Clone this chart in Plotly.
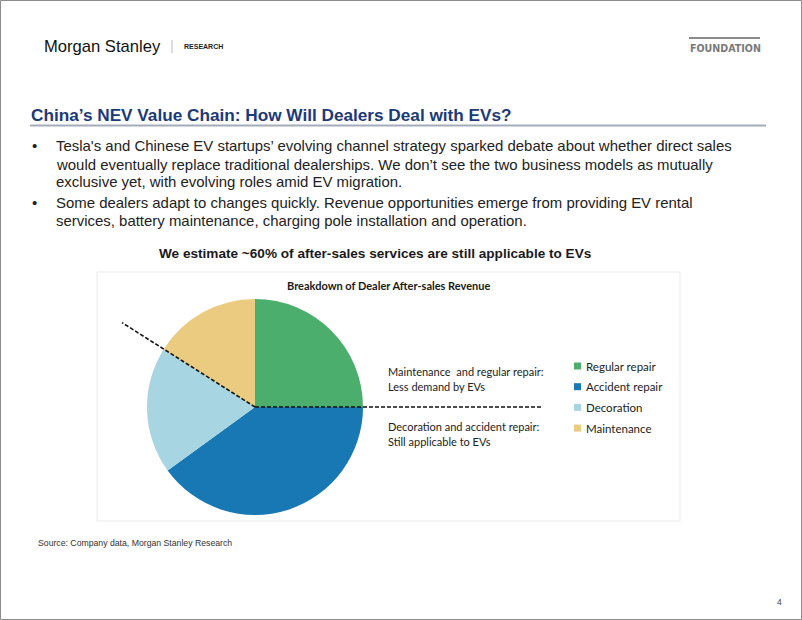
import math
import plotly.graph_objects as go

# ---- data ----
categories = ["Regular repair", "Accident repair", "Decoration", "Maintenance"]
shares = [25, 40, 19, 16]
colors = ["#4CAE6C", "#1778B4", "#A8D5E2", "#EACB80"]

W, H = 802, 620

def px(x):
    return x / W

def py(y):
    return 1 - y / H

fig = go.Figure()

# pie: center (255,407), radius 108
cx, cy, r = 255, 407, 108
fig.add_trace(go.Pie(
    labels=categories, values=shares, sort=False, direction="clockwise", rotation=0,
    marker=dict(colors=colors, line=dict(width=0)),
    textinfo="none", hoverinfo="label+percent",
    domain=dict(x=[px(cx - r), px(cx + r)], y=[py(cy + r), py(cy - r)]),
    showlegend=False,
))

shapes = []
annotations = []

# slide border
shapes.append(dict(type="rect", xref="paper", yref="paper", x0=px(0.5), x1=px(801.5), y0=py(619.5), y1=py(0.5),
                   line=dict(color="#8C8C8C", width=1)))
# chart box
shapes.append(dict(type="rect", xref="paper", yref="paper", x0=px(97), x1=px(680), y0=py(521), y1=py(272),
                   line=dict(color="#EBEBEB", width=1)))
# title underline
shapes.append(dict(type="line", xref="paper", yref="paper", x0=px(30), x1=px(766), y0=py(125.5), y1=py(125.5),
                   line=dict(color="#A4ABBA", width=2)))
# FOUNDATION overline
shapes.append(dict(type="line", xref="paper", yref="paper", x0=px(689), x1=px(760), y0=py(38), y1=py(38),
                   line=dict(color="#8A8A8A", width=2)))
# divider in header
shapes.append(dict(type="line", xref="paper", yref="paper", x0=px(172), x1=px(172), y0=py(40), y1=py(53),
                   line=dict(color="#BBBBBB", width=1)))

# dashed split lines derived from the data (boundary of maintenance/decoration and at 3 o'clock)
total = sum(shares)
ang_b = 360 * sum(shares[:3]) / total  # clockwise from 12 o'clock
dx = math.sin(math.radians(ang_b))
dy = -math.cos(math.radians(ang_b))
t = (122 - cx) / dx
shapes.append(dict(type="line", xref="paper", yref="paper", x0=px(cx), y0=py(cy), x1=px(cx + t * dx), y1=py(cy + t * dy),
                   line=dict(color="#111111", width=1.6, dash="4px,2px")))
shapes.append(dict(type="line", xref="paper", yref="paper", x0=px(cx), y0=py(cy), x1=px(543), y1=py(cy),
                   line=dict(color="#111111", width=1.6, dash="4px,2px")))

def text(x, y, s, size, color="#222222", bold=False, family="Liberation Sans", xanchor="left"):
    annotations.append(dict(xref="paper", yref="paper", x=px(x), y=py(y), text=("<b>%s</b>" % s) if bold else s,
                            showarrow=False, xanchor=xanchor, yanchor="middle",
                            font=dict(size=size, color=color, family=family)))

# header
text(42, 46, "Morgan Stanley", 16.6, color="#111111", family="Liberation Sans")
text(182, 46, "RESEARCH", 7, color="#222222", bold=True)
text(688, 47.5, "FOUNDATION", 10.6, color="#7A7A7A", bold=True, family="DejaVu Sans Condensed")

# title
text(29, 115, "China’s NEV Value Chain: How Will Dealers Deal with EVs?", 17.2, color="#1B3A78", bold=True)

# bullets
bullet_lines = [
    (145, True, "Tesla's and Chinese EV startups’ evolving channel strategy sparked debate about whether direct sales"),
    (164, False, "would eventually replace traditional dealerships. We don’t see the two business models as mutually"),
    (182, False, "exclusive yet, with evolving roles amid EV migration."),
    (202, True, "Some dealers adapt to changes quickly. Revenue opportunities emerge from providing EV rental"),
    (220, False, "services, battery maintenance, charging pole installation and operation."),
]
for y, b, s in bullet_lines:
    if b:
        text(30, y, "•", 15, color="#222222")
    text(54, y, s, 14.95, color="#222222")

# subtitle
text(375, 253, "We estimate ~60% of after-sales services are still applicable to EVs", 13.6, color="#1a1a1a", bold=True, xanchor="center")

# chart title
text(388, 285, "Breakdown of Dealer After-sales Revenue", 11, color="#1a1a1a", bold=True, family="Lato", xanchor="center")

# split annotations
text(386, 371, "Maintenance  and regular repair:", 11, color="#222222", family="Lato")
text(386, 386, "Less demand by EVs", 11, color="#222222", family="Lato")
text(386, 426, "Decoration and accident repair:", 11, color="#222222", family="Lato")
text(386, 441, "Still applicable to EVs", 11, color="#222222", family="Lato")

# legend built from the data lists
leg_y0, leg_dy = 366, 20.7
for i, (cat, col) in enumerate(zip(categories, colors)):
    yy = leg_y0 + i * leg_dy
    shapes.append(dict(type="rect", xref="paper", yref="paper", x0=px(574), x1=px(581), y0=py(yy + 3.5), y1=py(yy - 3.5),
                       fillcolor=col, line=dict(width=0)))
    text(584, yy, cat, 11.5, color="#222222", family="Lato")

# source & page
text(36, 543, "Source: Company data, Morgan Stanley Research", 8.7, color="#333333")
text(775, 602, "4", 8.5, color="#444444")

fig.update_layout(
    width=W, height=H, margin=dict(l=0, r=0, t=0, b=0),
    paper_bgcolor="white", plot_bgcolor="white",
    shapes=shapes, annotations=annotations, showlegend=False,
)

fig.write_html("out.html")
